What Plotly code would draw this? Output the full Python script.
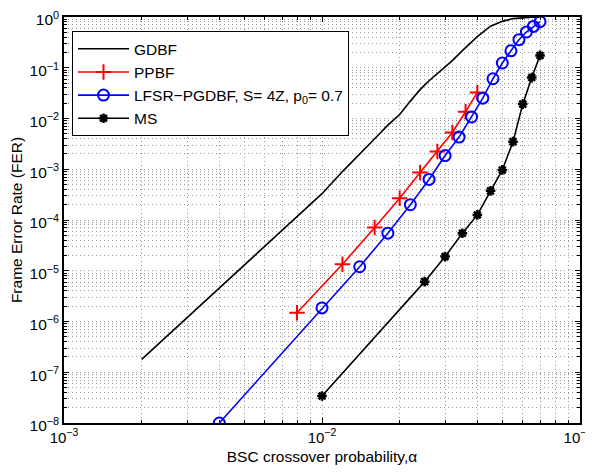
import plotly.graph_objects as go

# ---- data ----
gdbf_x = [0.002, 0.003, 0.004, 0.005, 0.006, 0.008, 0.01, 0.012, 0.014, 0.016, 0.018,
          0.02, 0.022, 0.024, 0.026, 0.028, 0.03, 0.032, 0.035, 0.038, 0.04, 0.045,
          0.05, 0.055, 0.06, 0.065, 0.07]
gdbf_y = [1.8e-7, 1.2e-6, 4.6e-6, 1.3e-5, 3.0e-5, 1.17e-4, 3.3e-4, 9.0e-4, 2.05e-3, 4.0e-3, 7.4e-3,
          0.012, 0.022, 0.037, 0.0555, 0.078, 0.104, 0.138, 0.218, 0.33, 0.41, 0.66,
          0.82, 0.93, 0.98, 0.995, 1.0]

ppbf_x = [0.008, 0.012, 0.016, 0.02, 0.024, 0.028, 0.032, 0.036, 0.04]
ppbf_y = [1.49e-6, 1.34e-5, 7.1e-5, 2.69e-4, 8.6e-4, 2.23e-3, 5.3e-3, 1.36e-2, 3.26e-2]

lfsr_x = [0.004, 0.01, 0.014, 0.018, 0.022, 0.026, 0.03, 0.034, 0.038, 0.042, 0.046,
          0.05, 0.054, 0.058, 0.062, 0.066, 0.07]
lfsr_y = [1.0e-8, 1.85e-6, 1.2e-5, 5.5e-5, 2.0e-4, 6.3e-4, 1.86e-3, 4.3e-3, 1.07e-2, 2.52e-2, 6.07e-2,
          0.124, 0.216, 0.357, 0.506, 0.653, 0.81]

ms_x = [0.01, 0.025, 0.03, 0.035, 0.04, 0.045, 0.05, 0.055, 0.06, 0.065, 0.07]
ms_y = [3.4e-8, 6.1e-6, 1.9e-5, 5.5e-5, 1.26e-4, 3.75e-4, 9.7e-4, 3.5e-3, 1.92e-2, 6.4e-2, 0.175]

x_tickvals = [1e-3, 1e-2, 1e-1]
x_ticktext = ["10<sup>−3</sup>", "10<sup>−2</sup>", "10<sup>−1</sup>\u00a0"]
y_tickvals = [10.0 ** (-k) for k in range(0, 9)]
y_ticktext = ["10<sup>0</sup>"] + ["10<sup>−%d</sup>" % k for k in range(1, 9)]

FONT = "Liberation Sans"
FS = 15.5
GRID = "#9a9a9a"

fig = go.Figure()
fig.add_trace(go.Scatter(x=gdbf_x, y=gdbf_y, mode="lines", name="GDBF", legendgroup="a",
                         line=dict(color="black", width=1.6)))
fig.add_trace(go.Scatter(x=ppbf_x, y=ppbf_y, mode="lines+markers", name="PPBF", legendgroup="b",
                         line=dict(color="#ff0000", width=1.6),
                         marker=dict(symbol="cross-thin-open", size=11,
                                     line=dict(color="#ff0000", width=2))))
fig.add_trace(go.Scatter(x=lfsr_x, y=lfsr_y, mode="lines+markers",
                         name="LFSR−PGDBF, S= 4Z, p<sub>0</sub>= 0.7", legendgroup="c",
                         line=dict(color="#0000ff", width=1.6),
                         marker=dict(symbol="circle-open", size=11,
                                     line=dict(color="#0000ff", width=2))))
fig.add_trace(go.Scatter(x=ms_x, y=ms_y, mode="lines+markers", name="MS", legendgroup="d",
                         line=dict(color="black", width=1.6),
                         marker=dict(symbol="asterisk-open", size=8,
                                     line=dict(color="black", width=2.5))))

axis_common = dict(
    type="log", showline=True, linecolor="black", linewidth=1.5, mirror="ticks",
    ticks="inside", ticklen=5, tickcolor="black", tickwidth=1,
    showgrid=True, gridcolor=GRID, griddash="1px,3px", gridwidth=1,
    zeroline=False, automargin=False, ticklabeloverflow="allow",
    minor=dict(dtick="D1", ticks="inside", ticklen=3, tickcolor="black", showgrid=True,
               gridcolor=GRID, griddash="1px,3px", gridwidth=1),
)

fig.update_xaxes(range=[-3, -1], tickvals=x_tickvals, ticktext=x_ticktext,
                 tickfont=dict(family=FONT, size=15, color="black"),
                 title=dict(text="BSC crossover probability,α", font=dict(family=FONT, size=FS, color="black"),
                            standoff=6),
                 **axis_common)
fig.update_yaxes(range=[-8, 0], tickvals=y_tickvals, ticktext=y_ticktext,
                 tickfont=dict(family=FONT, size=FS, color="black"), ticklabelshift=3,
                 title=dict(text="Frame Error Rate (FER)", font=dict(family=FONT, size=FS, color="black"),
                            standoff=4),
                 **axis_common)

fig.update_layout(
    width=593, height=473,
    margin=dict(l=56, r=21, t=9, b=58),
    paper_bgcolor="white", plot_bgcolor="white",
    font=dict(family=FONT, size=FS, color="black"),
    showlegend=True,
    legend=dict(x=0.0155, y=0.965, xanchor="left", yanchor="top",
                bgcolor="white", bordercolor="black", borderwidth=1,
                font=dict(family=FONT, size=FS, color="black"),
                itemwidth=51, tracegroupgap=5, traceorder="normal"),
)

fig.write_html("out.html")
